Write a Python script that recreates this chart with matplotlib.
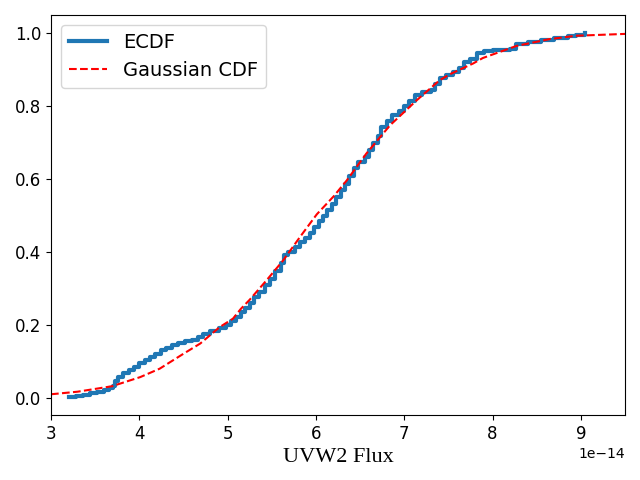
import matplotlib
matplotlib.use("Agg")
import matplotlib.pyplot as plt
import numpy as np

scale = 1e-14

# ECDF step points (flux in units of 1e-14, cumulative fraction)
ecdf_x = [3.20, 3.28, 3.36, 3.44, 3.52, 3.60, 3.66, 3.70, 3.73, 3.76, 3.82, 3.88,
          3.94, 4.00, 4.06, 4.12, 4.18, 4.24, 4.30, 4.37, 4.44, 4.52, 4.60, 4.66,
          4.72, 4.80, 4.90, 4.98, 5.04, 5.10, 5.15, 5.20, 5.25, 5.30, 5.36, 5.42,
          5.48, 5.54, 5.60, 5.64, 5.68, 5.76, 5.82, 5.88, 5.93, 5.98, 6.03, 6.08,
          6.13, 6.18, 6.23, 6.28, 6.33, 6.38, 6.43, 6.48, 6.55, 6.60, 6.65, 6.70,
          6.74, 6.80, 6.86, 6.94, 7.00, 7.05, 7.12, 7.20, 7.30, 7.35, 7.40, 7.47,
          7.55, 7.62, 7.68, 7.75, 7.82, 7.90, 8.00, 8.20, 8.26, 8.40, 8.55, 8.70,
          8.85, 8.95, 9.05]
ecdf_y = [0.004, 0.007, 0.010, 0.014, 0.018, 0.022, 0.027, 0.035, 0.047, 0.058, 0.068, 0.078,
          0.087, 0.096, 0.104, 0.113, 0.122, 0.131, 0.139, 0.146, 0.151, 0.156, 0.160, 0.168,
          0.176, 0.184, 0.192, 0.202, 0.212, 0.222, 0.235, 0.248, 0.262, 0.278, 0.292, 0.310,
          0.328, 0.348, 0.370, 0.392, 0.402, 0.415, 0.428, 0.440, 0.452, 0.468, 0.485, 0.500,
          0.515, 0.532, 0.552, 0.570, 0.588, 0.610, 0.630, 0.648, 0.662, 0.680, 0.698, 0.718,
          0.742, 0.760, 0.775, 0.788, 0.800, 0.815, 0.832, 0.838, 0.845, 0.862, 0.876, 0.886,
          0.895, 0.905, 0.920, 0.930, 0.945, 0.950, 0.953, 0.958, 0.970, 0.976, 0.980, 0.986,
          0.992, 0.996, 1.000]

# Gaussian CDF curve
gauss_x = [3.00, 3.30, 3.69, 4.01, 4.23, 4.50, 4.69, 4.91, 5.06, 5.15, 5.25, 5.44,
           5.63, 5.82, 6.01, 6.20, 6.35, 6.57, 6.84, 7.14, 7.40, 7.52, 7.78, 7.89,
           8.27, 8.65, 8.95, 9.50]
gauss_y = [0.011, 0.018, 0.033, 0.058, 0.081, 0.122, 0.150, 0.195, 0.218, 0.245, 0.270, 0.323,
           0.378, 0.442, 0.504, 0.553, 0.597, 0.670, 0.748, 0.816, 0.871, 0.888, 0.917, 0.932,
           0.965, 0.984, 0.993, 0.998]

fig = plt.figure(figsize=(6.4, 4.8), dpi=100)
ax = fig.add_subplot(111)
fig.subplots_adjust(left=0.0797, right=0.9766, top=0.96875, bottom=0.1354)

ax.plot(np.array(ecdf_x) * scale, ecdf_y, drawstyle="steps-post", color="#1f77b4",
        lw=3, label="ECDF")
ax.plot(np.array(gauss_x) * scale, gauss_y, "r--", lw=1.5, label="Gaussian CDF")

ax.set_xlim(3.0e-14, 9.5e-14)
ax.tick_params(labelsize=12)
ax.xaxis.get_offset_text().set_fontsize(10)
ax.set_xlabel("UVW2 Flux", fontsize=16, family="Liberation Serif")
ax.legend(loc="upper left", fontsize=14)

fig.savefig("out.png", dpi=100)
